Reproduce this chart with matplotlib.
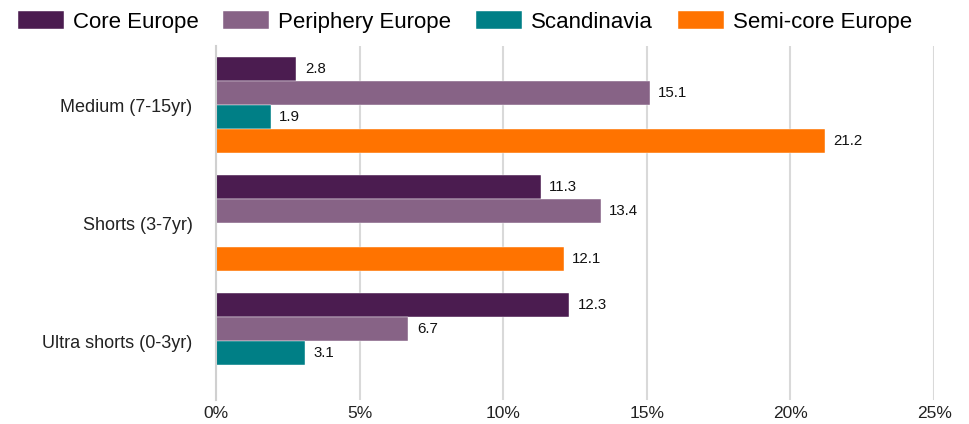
import numpy as np
import matplotlib.pyplot as plt
from matplotlib.ticker import FuncFormatter

plt.rcParams['font.family'] = ['Liberation Sans', 'DejaVu Sans']

categories = ['Medium (7-15yr)', 'Shorts (3-7yr)', 'Ultra shorts (0-3yr)']
series = ['Core Europe', 'Periphery Europe', 'Scandinavia', 'Semi-core Europe']
core = [2.8, 11.3, 12.3]
periphery = [15.1, 13.4, 6.7]
scandinavia = [1.9, np.nan, 3.1]
semi_core = [21.2, 12.1, np.nan]
colors = ['#4B1C50', '#876386', '#007F86', '#FF7300']

values = [core, periphery, scandinavia, semi_core]

fig = plt.figure(figsize=(9.7, 4.24), dpi=100)
ax = fig.add_axes([0.2227, 0.0566, 0.7403, 0.8349])

y = np.arange(len(categories))
h = 0.203
for i, (name, vals, c) in enumerate(zip(series, values, colors)):
    vals = np.array(vals, dtype=float)
    bars = ax.barh(y + (i - 1.5) * h, np.nan_to_num(vals), height=h, color=c,
                   label=name, edgecolor='white', linewidth=0.3)
    labels = ['' if np.isnan(v) else f'{v:.1f}' for v in vals]
    ax.bar_label(bars, labels=labels, padding=6, fontsize=10.8, color='#111111')

ax.set_ylim(2.5, -0.5)
ax.set_xlim(0, 25)
ax.set_xticks([0, 5, 10, 15, 20, 25])
ax.xaxis.set_major_formatter(FuncFormatter(lambda v, p: f'{v:.0f}%'))
ax.set_yticks(y)
ax.set_yticklabels(categories)
ax.tick_params(axis='x', length=0, labelsize=12.5, pad=4, colors='#222222')
ax.tick_params(axis='y', length=0, labelsize=13, pad=17, colors='#222222')
ax.grid(axis='x', color='#D9D9D9', linewidth=1.5)
ax.set_axisbelow(True)
for s in ['top', 'right', 'bottom']:
    ax.spines[s].set_visible(False)
ax.spines['left'].set_color('#D0D0D0')
ax.spines['left'].set_linewidth(1.5)

fig.legend(loc='upper left', bbox_to_anchor=(0.009, 0.995), ncol=4, frameon=False,
           fontsize=16, handlelength=2.07, handleheight=0.9, handletextpad=0.4,
           columnspacing=1.13, borderaxespad=0)

fig.savefig('out.png', dpi=100)
